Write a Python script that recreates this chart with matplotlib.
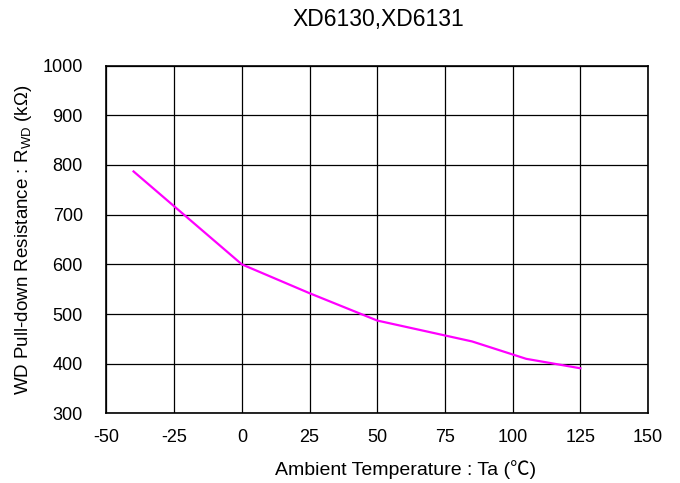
import matplotlib
matplotlib.use('Agg')
import matplotlib.pyplot as plt

# fonts: Arial-like text, CJK font as fallback for the full-width degree sign
plt.rcParams['font.family'] = ['Liberation Sans', 'Noto Sans CJK JP', 'DejaVu Sans']
plt.rcParams['mathtext.fontset'] = 'custom'
plt.rcParams['mathtext.rm'] = 'Liberation Sans'
plt.rcParams['mathtext.it'] = 'Liberation Sans'
plt.rcParams['axes.unicode_minus'] = False

# data
temperature = [-40, 0, 25, 50, 85, 105, 125]
resistance = [787, 600, 542, 487, 445, 410, 391]

x_ticks = [-50, -25, 0, 25, 50, 75, 100, 125, 150]
y_ticks = [300, 400, 500, 600, 700, 800, 900, 1000]

fig = plt.figure(figsize=(6.8, 4.83), dpi=100)
ax = fig.add_axes([0.1566, 0.1439, 0.7964, 0.7203])

ax.plot(temperature, resistance, color='#FF00FF', linewidth=1.6)

ax.set_xlim(-50, 150)
ax.set_ylim(300, 1000)
ax.set_xticks(x_ticks)
ax.set_yticks(y_ticks)
ax.tick_params(axis='both', length=0, labelsize=13)
ax.tick_params(axis='x', pad=11)
ax.tick_params(axis='y', pad=17)
ax.grid(True, color='black', linewidth=0.9)
for s in ax.spines.values():
    s.set_color('black')
    s.set_linewidth(1.2)

# the x label sits a bit right of the axes centre in the reference
ax.set_xlabel('Ambient Temperature : Ta (\u2103)', fontsize=14, labelpad=8)
ax.xaxis.set_label_coords(0.553, -0.135)
ax.set_ylabel('WD Pull-down Resistance : R$_{\\mathrm{WD}}$ (k\u03a9)',
              fontsize=13.5, labelpad=6)
fig.text(0.557, 0.96, 'XD6130,XD6131', ha='center', va='center', fontsize=16.5)

fig.savefig('out.png', dpi=100)
